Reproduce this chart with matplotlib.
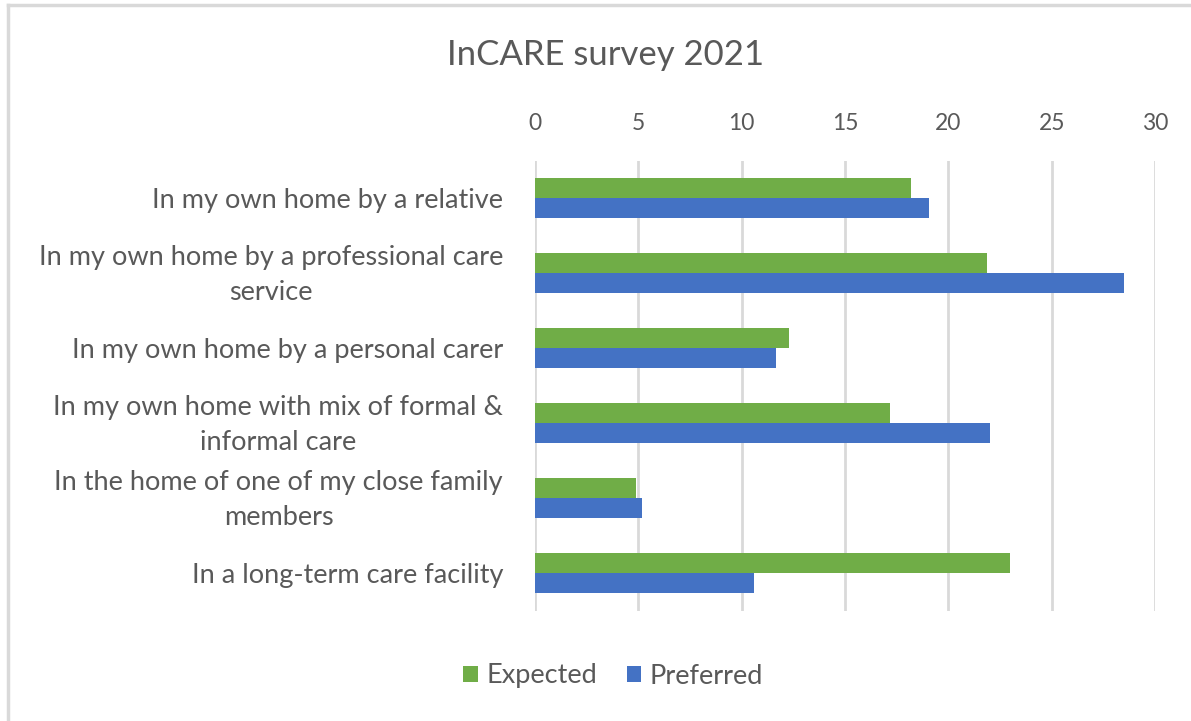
import matplotlib.pyplot as plt
import matplotlib.transforms as mtransforms
import numpy as np

# Data
categories = [
    'In my own home by a relative',
    'In my own home by a professional care\nservice',
    'In my own home by a personal carer',
    'In my own home with mix of formal &\ninformal care',
    'In the home of one of my close family\nmembers',
    'In a long-term care facility',
]
expected = [18.2, 21.85, 12.3, 17.2, 4.87, 23.0]
preferred = [19.07, 28.5, 11.65, 22.0, 5.17, 10.6]
xticks = [0, 5, 10, 15, 20, 25, 30]

GREEN = '#70ad47'
BLUE = '#4472c4'
GRID = '#d9d9d9'
TXT = '#595959'

plt.rcParams['font.family'] = ['Lato', 'DejaVu Sans']

fig = plt.figure(figsize=(11.91, 7.21), dpi=100)
ax = fig.add_axes([535/1191, 110.3/721, 620/1191, 450/721])

y = np.arange(len(categories))
h = 0.267
ax.barh(y - h/2, expected, height=h, color=GREEN, label='Expected', zorder=3)
ax.barh(y + h/2, preferred, height=h, color=BLUE, label='Preferred', zorder=3)

ax.set_ylim(len(categories) - 0.5, -0.5)
ax.set_xlim(0, 30)
ax.set_yticks(y)
ax.set_yticklabels(categories, fontsize=19.5, color=TXT, multialignment='center',
                   linespacing=1.5)
ax.set_xticks(xticks)
ax.set_xticklabels([str(v) for v in xticks], fontsize=16.5, color=TXT)
ax.xaxis.tick_top()
ax.tick_params(axis='both', length=0)
ax.tick_params(axis='y', pad=23)
ax.tick_params(axis='x', pad=19)
ax.grid(axis='x', color=GRID, linewidth=2, zorder=0)
for s in ax.spines.values():
    s.set_visible(False)

# nudge the two-line labels up a little so they sit centred on their group
shift = mtransforms.ScaledTranslation(0, 6/100, fig.dpi_scale_trans)
for lab in ax.get_yticklabels():
    if '\n' in lab.get_text():
        lab.set_transform(lab.get_transform() + shift)

fig.text(606/1191, 1 - 55/721, 'InCARE survey 2021', fontsize=25, color=TXT,
         ha='center', va='center')

fig.legend(loc='center', bbox_to_anchor=(613/1191, 1 - 676/721), ncol=2,
           frameon=False, fontsize=19.5, labelcolor=TXT, handlelength=0.55,
           handleheight=0.55, handletextpad=0.3, columnspacing=1.1)

# chart border
fig.add_artist(plt.Line2D([8/1191, 8/1191], [0, 1 - 5/721], transform=fig.transFigure,
                          color=GRID, linewidth=2.5))
fig.add_artist(plt.Line2D([8/1191, 1], [1 - 5/721, 1 - 5/721], transform=fig.transFigure,
                          color=GRID, linewidth=2.5))

fig.savefig('out.png', dpi=100)
